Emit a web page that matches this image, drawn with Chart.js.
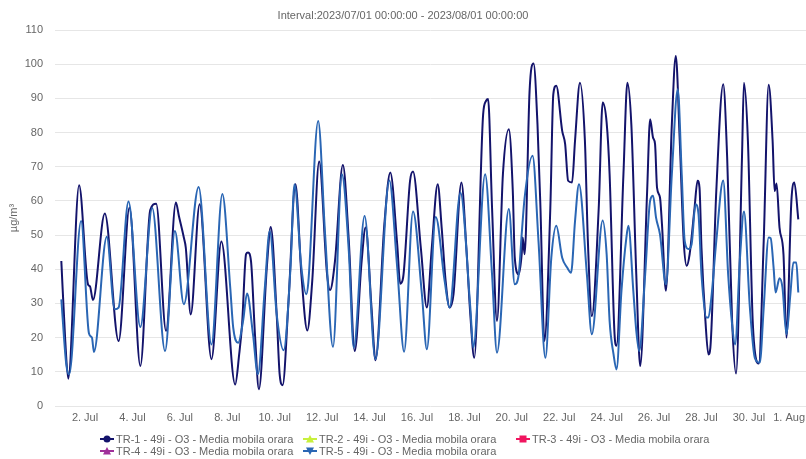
<!DOCTYPE html>
<html>
<head>
<meta charset="utf-8">
<script src="https://cdn.jsdelivr.net/npm/chart.js@4/dist/chart.umd.min.js"></script>
<style>
  html, body { margin: 0; padding: 0; background: #fff; }
  body { width: 806px; height: 459px; position: relative; overflow: hidden; font-family: "Liberation Sans", Arial, sans-serif; }
  #wrap { position: absolute; left: 0; top: 0; width: 806px; height: 459px; }
  #title { position: absolute; left: 0; width: 806px; top: 8px; text-align: center; font-size: 11px; color: #666; line-height: 14px; }
  .lg { position: absolute; font-size: 11px; color: #666; line-height: 12px; white-space: nowrap; }
  .lg svg { position: absolute; left: 0; top: 0; }
  .lg span { position: absolute; top: 0; }
</style>
</head>
<body>
<div id="wrap"><canvas id="c" width="806" height="459"></canvas></div>
<div id="title">Interval:2023/07/01 00:00:00 - 2023/08/01 00:00:00</div>
<div id="legend"></div>
<script>
// ---- data (hours since 2023/07/01 00:00) ----
const seriesNames = [
  "TR-1 - 49i - O3 - Media mobila orara",
  "TR-2 - 49i - O3 - Media mobila orara",
  "TR-3 - 49i - O3 - Media mobila orara",
  "TR-4 - 49i - O3 - Media mobila orara",
  "TR-5 - 49i - O3 - Media mobila orara"
];
const seriesColors = ["#13136b", "#c8f03c", "#f0155f", "#a0309a", "#2a66b4"];
const seriesMarkers = ["circle", "triangle", "rect", "triangle", "triangleDown"];

const tr1Hours = [0,4,7,18,27,29,32,44,58,69,80,90,96,106,116,119,124,126,131,140,152,162,176,180,183,187,189,192,196,200,208,212,218,221,224,230,237,243,249,254,261,269,272,277,285,291,297,304,308,314,318,327,333,340,343,346,353,356,364,370,375,381,385,389,393,397,405,410,414,418,427,430,432,436,441,447,453,457,459,463,466,467,469,474,478,482,485,489,495,498,501,507,510,513,517,520,525,530,533,537,544,548,552,555,560,562,569,573,577,582,586,593,596,599,601,603,606,608,612,618,622,626,630,633,636,641,644,646,648,652,655,657,663,670,674,679,683,689,691,695,700,706,711,716,720,722,724,727,731,734,739,742,746];
const tr1Values = [42.4,19,8.0,64.6,35.6,35,31,56.3,19,58,11.7,57.3,59.2,22,59.5,55.6,49.3,46.3,26.8,59,13.7,48.1,6.3,15,24,44.4,44.9,42.4,21,4.9,40.5,52.4,26.8,9.3,6.1,30.7,64.9,38.5,22.1,36.6,71.5,38.5,33.9,42.4,70.5,48.3,16.1,42.4,52.2,28.8,13.4,53.2,68.3,47.3,35.8,37.6,65.9,68.6,46,28.8,46.3,64.9,52.2,36.6,28.8,32.7,65.4,46.3,26.8,14.1,85.4,89.3,89.8,58,24.9,67.8,81,62.9,43.4,38.5,44.4,49.3,44.4,92.2,100.2,82.4,58,19,58,91.2,93.7,80.5,76.6,65.9,65.4,77.6,94.6,77.6,48.3,26.3,58,88.8,82.9,67.8,21,17.6,67.8,94.6,82.4,38.5,11.7,62.9,83.9,78.5,76.6,63.9,61,53.2,33.7,82.4,102.4,77.6,48.3,41,44.4,58,65.9,63.9,46.3,24.9,15.1,17.1,62.9,94.1,72.7,24.9,9.5,72.7,94.6,77.6,23.9,12.4,48.3,94,77.6,62.9,65.1,52.2,44.4,20,60,65.4,54.6];

const tr5Hours = [0,5,8,20,28,31,33,46,54,58,68,80,92,105,115,124,139,152,163,171,174,179,184,188,194,199,206,211,218,225,232,236,243,248,250,260,267,275,284,291,296,307,318,332,340,347,356,365,370,379,388,393,404,414,417,429,436,441,453,459,463,466,469,477,483,490,496,501,507,512,516,520,524,532,537,548,552,555,559,562,567,572,574,579,582,585,591,596,599,602,606,612,618,624,628,631,635,638,642,645,648,653,655,658,663,670,675,679,682,687,691,697,702,707,711,716,718,721,723,727,730,734,738,741,744,746];
const tr5Values = [31.2,12.2,9.3,54.1,21.2,20,15.8,49.5,28.3,28.8,59.8,23.1,57.9,16.1,51.2,29.8,64.1,18,62,34.6,22.9,18.5,24.9,32.9,21,9.3,34.6,51.2,26.8,16.3,40.5,64.9,40.5,32.7,36.1,83.4,50.2,17.3,67.8,45.4,17.1,55.6,13.7,66,40.5,15.9,56.9,32.7,16.6,55.3,36.6,28.8,62.4,28.8,17.1,67.8,38.5,15.6,57.6,35.6,38.5,50.2,61,73.2,48.3,14.1,43.4,52.7,43.4,40.5,39,54.1,64.9,38.5,21,54.3,44.4,24.9,15.1,10.7,33.7,49.3,52.7,33.7,22,16.1,38.5,60,61.5,55.1,50.2,35.6,67.8,92.7,67.8,48.3,45.9,47.3,59,56.1,38.5,25.9,25.9,31.7,48.3,66,38.5,23.9,18,43.4,56.9,28.8,14.1,12.7,28.8,49.3,49.1,40.5,33.2,37.4,34.6,21,32.7,42,42,33.2];

const tickHours  = [24,72,120,168,216,264,312,360,408,456,504,552,600,648,696,744];
const tickLabels = ["2. Jul","4. Jul","6. Jul","8. Jul","10. Jul","12. Jul","14. Jul","16. Jul","18. Jul","20. Jul","22. Jul","24. Jul","26. Jul","28. Jul","30. Jul","1. Aug"];
const yMin = 0, yMax = 110, yStep = 10;

// ---- chart ----
const FONT = '"Liberation Sans", Arial, sans-serif';
const toPts = (hs, vs) => hs.map((h, i) => ({ x: h, y: vs[i] }));

const xLabelPlugin = {
  id: 'xLabels',
  afterDraw(chart) {
    const ctx = chart.ctx, xs = chart.scales.x;
    ctx.save();
    ctx.font = '11px ' + FONT;
    ctx.fillStyle = '#666';
    ctx.textAlign = 'center';
    ctx.textBaseline = 'middle';
    tickHours.forEach((h, i) => {
      let px = xs.getPixelForValue(h);
      const w = ctx.measureText(tickLabels[i]).width;
      if (px + w / 2 > chart.width - 1) px = chart.width - 1 - w / 2;
      ctx.fillText(tickLabels[i], px, 418);
    });
    ctx.restore();
  }
};

const datasets = seriesNames.map((name, i) => ({
  label: name,
  data: [],
  borderColor: seriesColors[i],
  backgroundColor: seriesColors[i],
  borderWidth: 2,
  pointRadius: 0,
  fill: false,
  cubicInterpolationMode: 'monotone',
  order: 5 - i
}));
datasets[0].data = toPts(tr1Hours, tr1Values);
datasets[4].data = toPts(tr5Hours, tr5Values);

new Chart(document.getElementById('c'), {
  type: 'line',
  data: { datasets },
  plugins: [xLabelPlugin],
  options: {
    responsive: false,
    animation: false,
    devicePixelRatio: 1,
    layout: { padding: { top: 30, left: 0, right: 0, bottom: 0 } },
    plugins: { legend: { display: false }, tooltip: { enabled: false }, title: { display: false } },
    scales: {
      x: {
        type: 'linear',
        min: -6.4,
        max: 753.8,
        grid: { display: false },
        border: { display: false },
        ticks: { display: false },
        afterFit(s) { s.height = 53; }
      },
      y: {
        min: yMin, max: yMax,
        ticks: { stepSize: yStep, color: '#666', font: { size: 11, family: FONT }, padding: 12 },
        grid: { color: '#e6e6e6', drawTicks: false, lineWidth: 1 },
        border: { display: false },
        title: { display: true, text: 'µg/m³', color: '#666', font: { size: 11, family: FONT }, padding: { top: 7, bottom: 0 } },
        afterFit(s) { s.width = 55; }
      }
    }
  }
});

// ---- HTML legend ----
const colLeft = [100, 303, 516];
const rowTop = [433, 445];
const legend = document.getElementById('legend');
function markerSvg(kind, color) {
  let m = '';
  if (kind === 'circle') m = `<circle cx="7" cy="6" r="3.5" fill="${color}"/>`;
  else if (kind === 'rect') m = `<rect x="3.5" y="2.5" width="7" height="7" fill="${color}"/>`;
  else if (kind === 'triangle') m = `<polygon points="7,2 11,9.5 3,9.5" fill="${color}"/>`;
  else m = `<polygon points="3,2.5 11,2.5 7,10" fill="${color}"/>`;
  return `<svg width="15" height="12"><line x1="0" y1="6" x2="14" y2="6" stroke="${color}" stroke-width="2"/>${m}</svg>`;
}
seriesNames.forEach((name, i) => {
  const d = document.createElement('div');
  d.className = 'lg';
  d.style.left = colLeft[i % 3] + 'px';
  d.style.top = rowTop[Math.floor(i / 3)] + 'px';
  d.innerHTML = markerSvg(seriesMarkers[i], seriesColors[i]) + `<span style="left:16px">${name}</span>`;
  legend.appendChild(d);
});
</script>
</body>
</html>
